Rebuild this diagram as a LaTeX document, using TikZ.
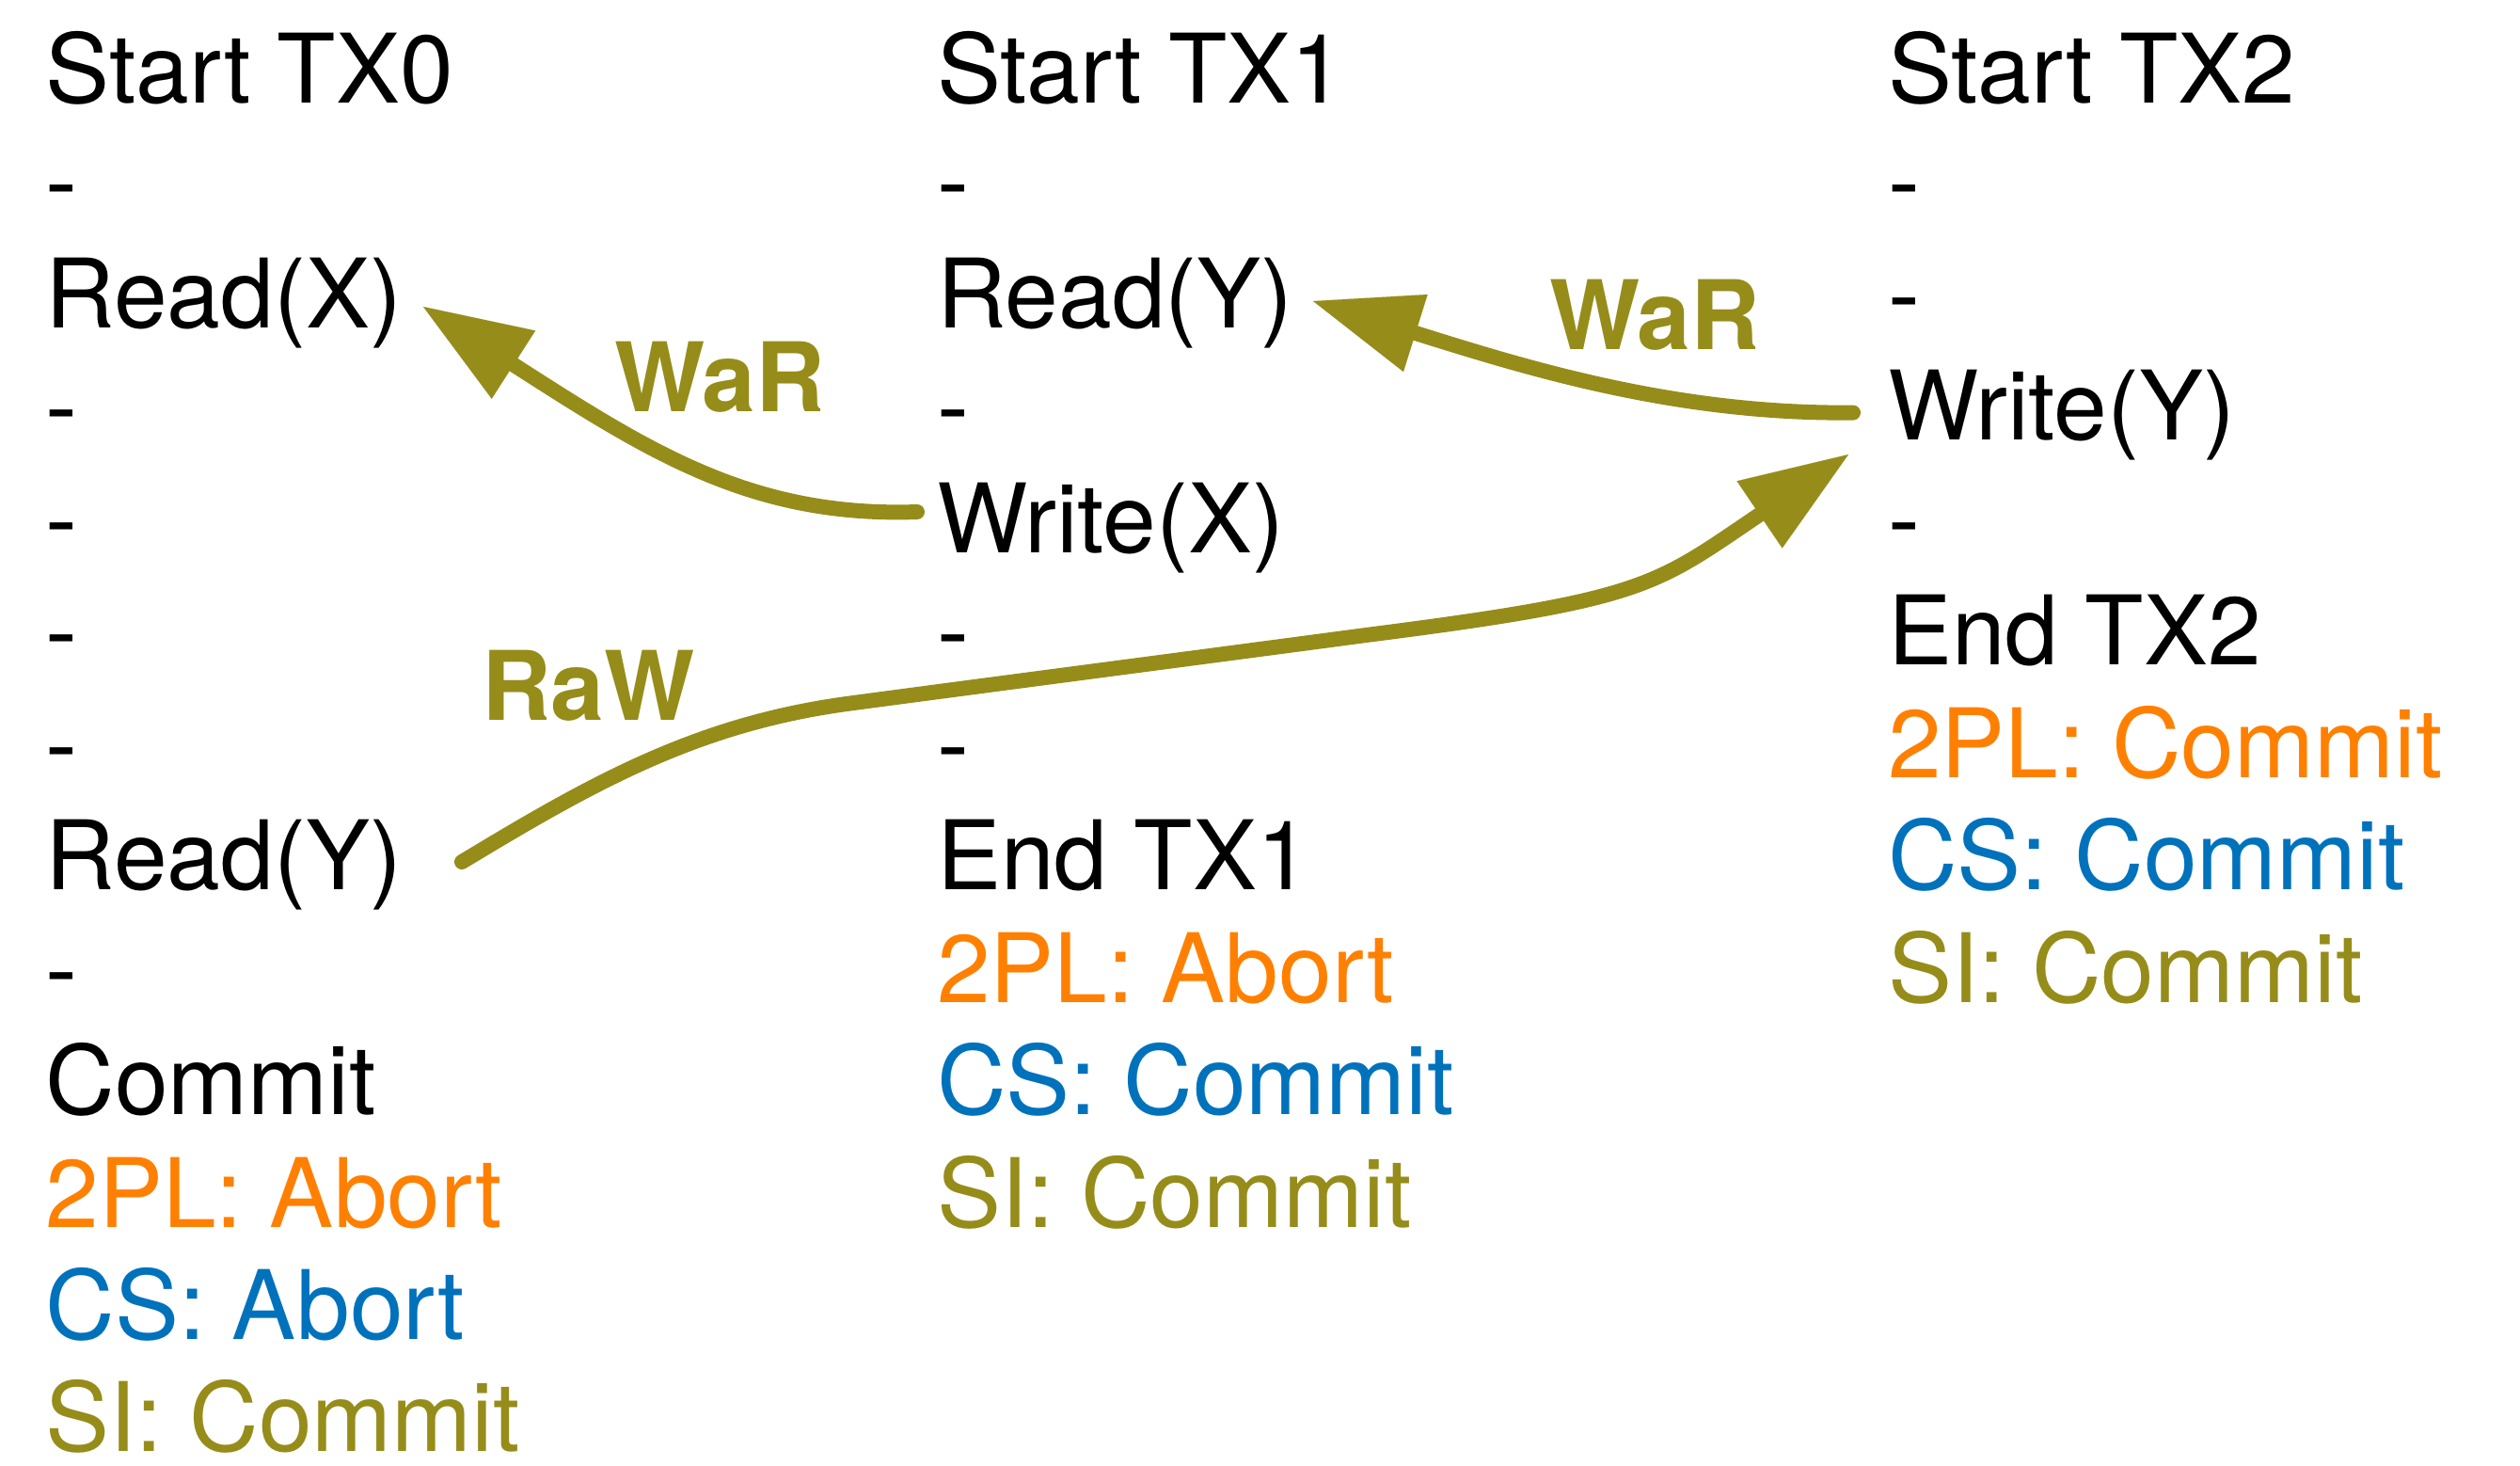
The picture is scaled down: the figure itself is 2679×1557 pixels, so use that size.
\documentclass[tikz,border=0pt]{standalone}
\usepackage{fontspec}
\setmainfont{TeX Gyre Heros}
\usetikzlibrary{arrows.meta,calc}
\definecolor{olv}{RGB}{150,140,26}
\definecolor{org}{RGB}{255,128,0}
\definecolor{blu}{RGB}{0,114,188}
\begin{document}
\begin{tikzpicture}[x=0.25pt,y=-0.25pt,
  txt/.style={anchor=base west,inner sep=0pt,outer sep=0pt,font=\fontsize{25.5pt}{30pt}\selectfont},
  lbl/.style={txt,font=\fontsize{25.5pt}{30pt}\selectfont\bfseries,text=olv},
  dep/.style={draw=olv,line width=4pt,line cap=round,-{Triangle[length=28.5pt,width=21.5pt,line width=0.01pt]}}]
\useasboundingbox (0,0) rectangle (2679,1557);
% column 0
\node[txt] (a0) at (48.5,109.5) {Start TX0};
\node[txt] (a1) at (48.5,228.95) {-};
\node[txt] (a2) at (48.5,348.4) {Read(X)};
\node[txt] (a3) at (48.5,467.85) {-};
\node[txt] (a4) at (48.5,587.3) {-};
\node[txt] (a5) at (48.5,706.75) {-};
\node[txt] (a6) at (48.5,826.2) {-};
\node[txt] (a7) at (48.5,945.65) {Read(Y)};
\node[txt] (a8) at (48.5,1065.1) {-};
\node[txt] (a9) at (48.5,1184.55) {Commit};
\node[txt,text=org] (a10) at (48.5,1304) {2PL: Abort};
\node[txt,text=blu] (a11) at (48.5,1423.45) {CS: Abort};
\node[txt,text=olv] (a12) at (48.5,1542.9) {SI: Commit};
% column 1
\node[txt] (b0) at (996,109.5) {Start TX1};
\node[txt] (b1) at (996,228.95) {-};
\node[txt] (b2) at (996,348.4) {Read(Y)};
\node[txt] (b3) at (996,467.85) {-};
\node[txt] (b4) at (996,587.3) {Write(X)};
\node[txt] (b5) at (996,706.75) {-};
\node[txt] (b6) at (996,826.2) {-};
\node[txt] (b7) at (996,945.65) {End TX1};
\node[txt,text=org] (b8) at (996,1065.1) {2PL: Abort};
\node[txt,text=blu] (b9) at (996,1184.55) {CS: Commit};
\node[txt,text=olv] (b10) at (996,1304) {SI: Commit};
% column 2
\node[txt] (c0) at (2007,109.5) {Start TX2};
\node[txt] (c1) at (2007,228.95) {-};
\node[txt] (c2) at (2007,348.4) {-};
\node[txt] (c3) at (2007,467.85) {Write(Y)};
\node[txt] (c4) at (2007,587.3) {-};
\node[txt] (c5) at (2007,706.75) {End TX2};
\node[txt,text=org] (c6) at (2007,826.2) {2PL: Commit};
\node[txt,text=blu] (c7) at (2007,945.65) {CS: Commit};
\node[txt,text=olv] (c8) at (2007,1065.1) {SI: Commit};
% labels
\node[lbl] (war1) at (653,437.5) {WaR};
\node[lbl] (war2) at (1647,371.4) {WaR};
\node[lbl] (raw) at (512,765.5) {RaW};
% connectors
\coordinate (w1s) at ($(b4.base west)+(-21,-43.3)$);
\coordinate (w1e) at (450,326);
\draw[dep] (w1s) .. controls +(-176,6) and +(240,154) .. (w1e);
\coordinate (w2s) at ($(c3.base west)+(-37,-29.3)$);
\coordinate (w2e) at (1396,320);
\draw[dep] (w2s) .. controls +(-190,2) and +(224,70) .. (w2e);
\coordinate (rs) at (491,916);
\coordinate (rawmid) at (900,748);
\coordinate (rawbend) at (1452,675);
\coordinate (re) at (1965,483);
\draw[dep] (rs) .. controls (630,832) and (740,770) .. (rawmid)
  .. controls +(180,-24) and +(-180,24) .. (rawbend)
  .. controls (1750,637) and (1758,623) .. (re);
\end{tikzpicture}
\end{document}
